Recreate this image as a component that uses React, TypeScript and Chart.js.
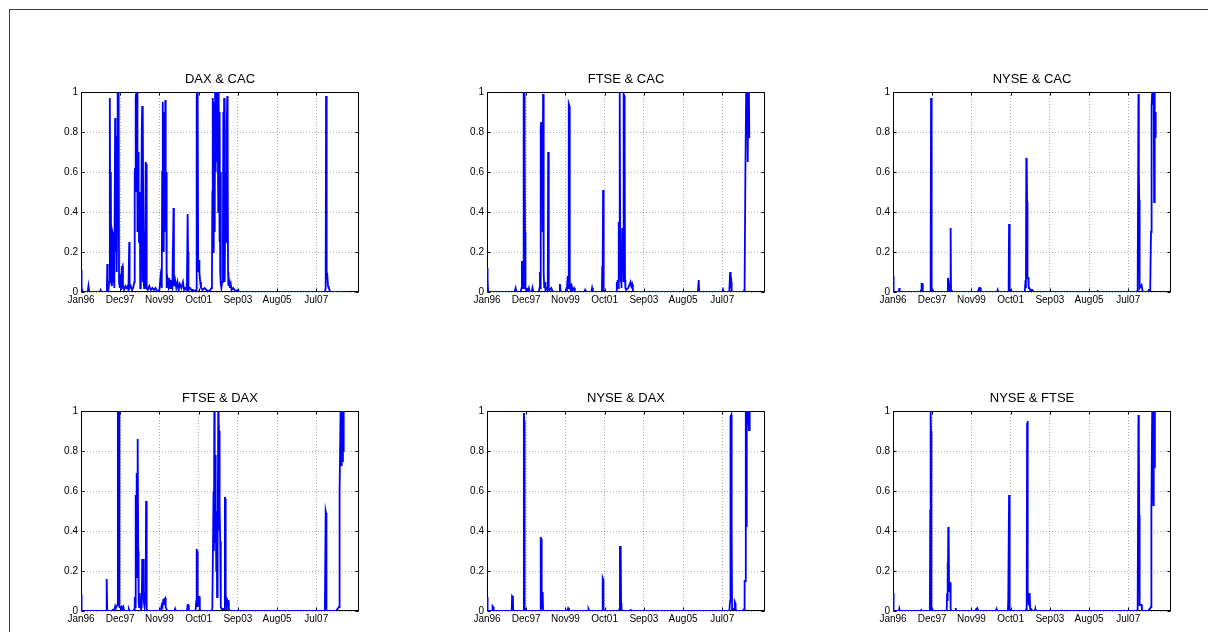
import { useEffect, useRef } from 'react';
import { Chart, registerables } from 'chart.js';

Chart.register(...registerables);

// ---------- data ----------
const tickWeeks = [0, 100, 200, 300, 400, 500, 600];
const tickLabels = ['Jan96', 'Dec97', 'Nov99', 'Oct01', 'Sep03', 'Aug05', 'Jul07'];
const yTicks = [0, 0.2, 0.4, 0.6, 0.8, 1];
const xMaxWeek = 709;

const daxCac: [number, number][] = [
  [0,0.11],[1,0.1],[2,0.02],[4,0],[17,0],[19,0.03],[21,0],[48,0],[50,0.01],[52,0],[64,0],[66,0.02],[67,0.14],[68,0.03],[70,0.01],[72,0.05],[73.5,0.97],[75,0.1],[76,0.6],[77,0.05],[79,0.03],[80,0.3],[81,0.29],[82,0.05],[84,0.1],[85,0.02],[87,0.87],[88,0.2],[90,0.78],[91,0.1],[92,0.3],[93,0.9],[94,1.0],[95,0.4],[96,1.0],[97,0.05],[99,0.02],[101,0.09],[102,0.01],[104,0.12],[106,0.13],[107,0.02],[110,0.01],[113,0.03],[116,0.02],[119,0.03],[121,0.01],[123,0.25],[124,0.02],[127,0.03],[130,0.01],[133,0.02],[136,0.05],[137,0.6],[138,0.62],[139,0.5],[140,0.97],[141,1.0],[142,0.5],[143,1.0],[144,0.3],[146,0.7],[147,0.5],[148,0.25],[150,0.5],[151,0.02],[152,0.4],[153,0.05],[155,0.8],[156,0.93],[157,0.05],[158,0.92],[159,0.3],[160,0.05],[161,0.02],[163,0.03],[165,0.65],[166,0.64],[167,0.05],[168,0.02],[170,0.01],[174,0.03],[178,0.01],[182,0.02],[186,0.01],[190,0.02],[195,0],[200,0.01],[203,0.08],[205,0.05],[206,0.02],[207,0.6],[208,0.95],[209,0.6],[210,0.9],[211,0.2],[212,0.8],[213,0.3],[215,0.96],[216,0.4],[217,0.6],[218,0.05],[219,0.02],[221,0.06],[223,0.03],[225,0.07],[227,0.02],[229,0.06],[231,0.03],[233,0.02],[236,0.42],[237,0.03],[240,0.06],[243,0.02],[246,0.05],[249,0.01],[252,0.04],[256,0.02],[260,0.05],[263,0.01],[266,0.02],[270,0.01],[272,0.39],[273,0.2],[274,0.01],[278,0.02],[282,0.01],[286,0.01],[290,0.005],[294,0.01],[295,0.97],[296,1.0],[297,0.4],[298,0.9],[299,0.1],[301,0.16],[302,0.1],[304,0.05],[306,0.02],[310,0.01],[315,0.02],[320,0.01],[325,0.005],[330,0.01],
  [333,0.02],[334,0.06],[335,0.5],[336,0.97],[337,0.2],[338,0.9],[339,0.6],[340,0.95],[341,0.3],[342,1.0],[343,0.8],[344,0.6],[345,1.0],[346,0.65],[347,1.0],[348,0.75],[349,0.95],[350,0.4],[351,1.0],[352,0.7],[353,0.25],[354,0.9],[355,0.1],[356,0.6],[357,0.04],[358,0.02],[360,0.05],[362,0.3],[363,0.9],[364,0.5],[365,0.97],[366,0.1],[367,0.05],[369,0.6],[370,0.25],[371,0.3],[372,0.8],[373,0.98],[374,0.7],[375,0.1],[376,0.03],[378,0.05],[380,0.02],[382,0.04],[384,0.01],[388,0.02],[392,0.01],[396,0.005],[400,0.01],[404,0],
  [622,0],[624,0.02],[625,0.98],[626,0.7],[627,0.1],[628,0.09],[630,0.03],[632,0.02],[634,0.01],[636,0],[670,0]
];

const ftseCac: [number, number][] = [
  [0,0.12],[1,0.12],[2,0.06],[3,0],[70,0],[73,0.02],[75,0],[86,0],[88,0.02],[89,0.15],[91,0.15],[92,0.02],[93,0.1],[94,1.0],[95,0.99],[96,0.73],[97,0.3],[98,0.02],[100,0.01],[102,0.02],[104,0],[107,0.02],[109,0],[114,0],[116,0.02],[118,0],[132,0],[134,0.02],[135,0.1],[136,0.02],[137,0.82],[138,0.85],[139,0.8],[141,0.84],[142,0.3],[143,0.99],[144,0.98],[145,0.1],[146,0.02],[148,0.05],[149,0.01],[151,0.02],[154,0.01],[155,0.05],[156,0.7],[157,0.1],[158,0.02],[160,0.01],[164,0.02],[168,0],[184,0],[186,0.04],[188,0],[202,0],[204,0.02],[206,0.08],[207,0.02],[208,0.8],[209,0.94],[210,0.93],[211,0.05],[212,0.02],[213,0.04],[214,0.01],[216,0.03],[218,0.01],[222,0.02],[224,0],[248,0],[250,0.01],[252,0],[266,0],[268,0.02],[270,0],[292,0],[293,0.02],[294,0.13],[295,0.1],[296,0.51],[297,0.5],[298,0.01],[300,0],[330,0],[331,0.05],[332,0.03],[333,0.06],[335,0.02],[336,0.35],[337,0.1],[338,1.0],[339,0.99],[340,0.13],[341,0.05],[342,0.1],[343,0.02],[345,0.32],[346,0.1],[347,0.3],[348,0.05],[349,0.99],[350,0.98],[351,0.75],[352,0.06],[353,0.02],[355,0.01],[360,0.02],[364,0.04],[366,0.05],[368,0.03],[370,0.04],[372,0.01],[374,0],[538,0],[540,0.06],[541,0],[600,0],[602,0.01],[603,0],[618,0],[620,0.1],[621,0.1],[622,0.04],[623,0.05],[624,0],[654,0],[656,0.01],[657,0.02],[659,0.6],[661,1.0],[662,0.9],[664,1.0],[665,0.65],[666,0.95],[668,1.0],[669,0.77],[670,0.77]
];

const nyseCac: [number, number][] = [
  [0,0.08],[1,0.08],[2,0],[15,0],[16,0.02],[17,0],[70,0],[72,0.01],[73,0.04],[75,0.04],[76,0],[95,0],[96,0.02],[97,0.97],[98,0.84],[99,0.01],[101,0.01],[102,0],[139,0],[140,0.07],[141,0.06],[143,0.03],[144,0],[146,0.02],[147,0.32],[148,0.01],[150,0],[216,0],[218,0.01],[220,0.02],[222,0.02],[224,0],[265,0],[267,0.01],[268,0],[294,0],[295,0.04],[296,0.34],[297,0.04],[298,0.01],[300,0.01],[302,0],[336,0],[338,0.06],[339,0.02],[340,0.67],[341,0.66],[342,0.45],[343,0.07],[345,0.07],[346,0.02],[348,0.02],[350,0.01],[355,0.01],[357,0],[520,0],[522,0.005],[524,0],
  [622,0],[624,0.01],[626,0.99],[627,0.6],[628,0.46],[629,0.02],[632,0.03],[634,0.035],[636,0.01],[638,0],[650,0],[652,0.01],[656,0.01],[658,0.3],[659,0.3],[660,0.93],[661,1.0],[663,1.0],[664,0.94],[665,1.0],[666,0.45],[667,1.0],[668,0.77],[669,0.9],[670,0.77]
];

const ftseDax: [number, number][] = [
  [0,0.08],[1,0.08],[2,0],[64,0],[65,0.16],[66,0.16],[67,0],[80,0],[81,0.01],[82,0],[86,0.01],[87,0.02],[88,0.01],[90,0.02],[93,0.03],[94,1.0],[97,1.0],[98,0.02],[100,0.02],[102,0.01],[104,0.02],[106,0.01],[108,0.02],[110,0],[120,0],[122,0.01],[124,0],[134,0],[136,0.01],[137,0.07],[138,0.02],[139,0.57],[140,0.58],[141,0.17],[142,0.69],[143,0.4],[144,0.86],[145,0.85],[146,0.3],[147,0.05],[148,0.02],[150,0.09],[151,0.02],[153,0.01],[155,0.02],[156,0.26],[157,0.1],[158,0.2],[159,0.26],[160,0.05],[162,0.02],[165,0.1],[166,0.55],[167,0.04],[168,0.01],[170,0],[202,0],[204,0.01],[206,0.03],[208,0.02],[210,0.06],[211,0.03],[213,0.06],[215,0.065],[216,0.02],[218,0.01],[220,0],[238,0],[240,0.01],[241,0],[270,0],[272,0.03],[273,0.03],[275,0],[292,0],[294,0.05],[295,0.31],[296,0.3],[297,0.07],[298,0.02],[300,0.07],[302,0.07],[303,0.01],[305,0],
  [334,0],[335,0.02],[338,0.6],[339,0.3],[340,1.0],[341,0.6],[342,0.78],[343,0.34],[344,0.5],[345,0.2],[346,0.5],[347,0.07],[348,0.45],[349,0.3],[350,1.0],[351,0.95],[352,0.9],[353,0.4],[354,0.53],[355,0.35],[356,0.05],[357,0.02],[359,0.01],[366,0.01],[367,0.57],[368,0.56],[369,0.02],[371,0.01],[372,0.06],[374,0.05],[376,0.05],[377,0.01],[380,0],
  [622,0],[624,0.5],[625,0.49],[626,0],[650,0],[654,0.01],[658,0.02],[659,0.09],[660,0.6],[662,1.0],[663,0.95],[664,0.73],[665,1.0],[667,0.75],[668,1.0],[669,0.8],[670,1.0]
];

const nyseDax: [number, number][] = [
  [0,0.07],[1,0.07],[2,0],[13,0],[14,0.025],[16,0.02],[17,0],[63,0],[64,0.075],[66,0.07],[67,0],[93,0],[94,0.99],[95,0.95],[96,0.01],[98,0.01],[100,0],[136,0],[137,0.37],[138,0.36],[139,0.01],[140,0.09],[142,0.09],[143,0],[204,0],[206,0.01],[207,0.015],[209,0.01],[210,0],[258,0],[259,0.01],[261,0],[294,0],[295,0.165],[296,0.16],[297,0],[336,0],[338,0.01],[339,0.32],[341,0.32],[342,0.04],[343,0.01],[345,0],[365,0],[366,0.01],[367,0],
  [618,0],[620,0.05],[621,0.97],[623,0.98],[624,0.4],[625,0.01],[630,0.01],[632,0.045],[633,0.04],[634,0.01],[636,0],[650,0],[654,0.005],[656,0.01],[657,0.15],[658,0.15],[660,1.0],[661,0.98],[662,0.42],[663,1.0],[665,0.93],[666,1.0],[668,0.9],[669,1.0],[670,0.9]
];

const nyseFtse: [number, number][] = [
  [0,0.09],[1,0.09],[2,0],[15,0],[16,0.01],[17,0],[70,0],[72,0.005],[73,0],[94,0],[95,0.5],[96,1.0],[97,0.9],[98,0.01],[100,0.01],[101,0],[137,0],[138,0.09],[139,0.24],[140,0.05],[141,0.42],[142,0.4],[143,0.1],[144,0.14],[146,0.14],[147,0.01],[149,0],[159,0],[160,0.015],[161,0],[210,0],[212,0.01],[215,0.015],[217,0],[262,0],[264,0.01],[265,0],[293,0],[294,0.06],[296,0.58],[297,0.38],[298,0.01],[300,0],[338,0],[340,0.01],[341,0.1],[342,0.94],[343,0.95],[344,0.06],[345,0.09],[346,0.03],[347,0.09],[348,0.02],[349,0.09],[350,0.01],[352,0.01],[354,0],[362,0],[363,0.01],[364,0],
  [622,0],[624,0.01],[626,0.98],[627,0.82],[628,0.48],[629,0.03],[631,0.03],[634,0.03],[635,0],[650,0],[655,0.01],[658,0.02],[659,0.51],[661,1.0],[662,0.93],[664,0.53],[665,1.0],[667,1.0],[668,0.72],[670,0.72]
];

const panelTitles = ['DAX & CAC', 'FTSE & CAC', 'NYSE & CAC', 'FTSE & DAX', 'NYSE & DAX', 'NYSE & FTSE'];
const panelSeries = [daxCac, ftseCac, nyseCac, ftseDax, nyseDax, nyseFtse];

// ---------- layout ----------
const FONT = '"Liberation Sans", Arial, Helvetica, sans-serif';
const PLOT_W = 278;
const PLOT_H = 200;
const PAD_L = 40;
const PAD_T = 30;
const PAD_R = 10;
const PAD_B = 20;
const colLefts = [81, 487, 893];
const rowTops = [92, 411];

const framePlugin = {
  id: 'frame',
  beforeDatasetsDraw(chart: any) {
    const { ctx, chartArea: a, scales } = chart;
    ctx.save();
    ctx.strokeStyle = '#000';
    ctx.lineWidth = 1;
    const l = Math.round(a.left) + 0.5;
    const r = Math.round(a.right) - 0.5;
    const t = Math.round(a.top) + 0.5;
    const b = Math.round(a.bottom) - 0.5;
    ctx.strokeRect(l, t, r - l, b - t);
    ctx.beginPath();
    for (const w of tickWeeks) {
      const x = Math.round(scales.x.getPixelForValue(w)) + 0.5;
      ctx.moveTo(x, b); ctx.lineTo(x, b - 3);
      ctx.moveTo(x, t); ctx.lineTo(x, t + 3);
    }
    for (const v of yTicks) {
      const y = Math.round(scales.y.getPixelForValue(v)) + 0.5;
      ctx.moveTo(l, y); ctx.lineTo(l + 3, y);
      ctx.moveTo(r, y); ctx.lineTo(r - 3, y);
    }
    ctx.stroke();
    ctx.restore();
  },
  afterDraw(chart: any, _args: any, opts: any) {
    const { ctx, chartArea: a } = chart;
    ctx.save();
    ctx.fillStyle = '#000';
    ctx.font = `13px ${FONT}`;
    ctx.textAlign = 'center';
    ctx.textBaseline = 'alphabetic';
    ctx.fillText(opts.title || '', (a.left + a.right) / 2, a.top - 9);
    ctx.restore();
  },
};

function Panel({ title, series, left, top }: { title: string; series: [number, number][]; left: number; top: number }) {
  const ref = useRef<HTMLCanvasElement | null>(null);
  useEffect(() => {
    if (!ref.current) return;
    const chart = new Chart(ref.current, {
      type: 'line',
      data: {
        datasets: [
          {
            data: series.map(([x, y]) => ({ x, y })),
            borderColor: '#0000ff',
            borderWidth: 1.8,
            pointRadius: 0,
            fill: false,
            tension: 0,
          },
        ],
      },
      options: {
        animation: false,
        responsive: false,
        devicePixelRatio: 1,
        layout: { padding: { left: 0, top: PAD_T, right: PAD_R, bottom: 0 } },
        plugins: {
          legend: { display: false },
          tooltip: { enabled: false },
          title: { display: false },
          frame: { title },
        } as any,
        scales: {
          x: {
            type: 'linear',
            min: 0,
            max: xMaxWeek,
            afterBuildTicks: (scale: any) => {
              scale.ticks = tickWeeks.map((v) => ({ value: v }));
            },
            afterFit: (scale: any) => {
              scale.height = PAD_B;
            },
            ticks: {
              autoSkip: false,
              maxRotation: 0,
              padding: 2,
              color: '#000',
              font: { family: FONT, size: 10 },
              callback: (_v: any, i: number) => tickLabels[i],
            },
            grid: { color: 'rgba(0,0,0,0.3)', drawTicks: false, lineWidth: 1 },
            border: { display: false, dash: [1, 2] },
          },
          y: {
            type: 'linear',
            min: 0,
            max: 1,
            afterBuildTicks: (scale: any) => {
              scale.ticks = yTicks.map((v) => ({ value: v }));
            },
            afterFit: (scale: any) => {
              scale.width = PAD_L;
            },
            ticks: {
              padding: 3,
              color: '#000',
              font: { family: FONT, size: 10 },
              callback: (v: any) => String(v),
            },
            grid: { color: 'rgba(0,0,0,0.3)', drawTicks: false, lineWidth: 1 },
            border: { display: false, dash: [1, 2] },
          },
        },
      },
      plugins: [framePlugin],
    } as any);
    return () => chart.destroy();
  }, [title, series]);

  const w = PLOT_W + PAD_L + PAD_R;
  const h = PLOT_H + PAD_T + PAD_B;
  return (
    <div style={{ position: 'absolute', left: left - PAD_L - 8, top: top - PAD_T - 8, width: w, height: h }}>
      <canvas ref={ref} width={w} height={h} style={{ display: 'block', width: w, height: h }} />
    </div>
  );
}

export default function App() {
  return (
    <div style={{ position: 'relative', width: 1200, height: 624, overflow: 'hidden', background: '#fff' }}>
      <div
        style={{
          position: 'absolute',
          left: 1,
          top: 1,
          width: 1199,
          height: 623,
          borderTop: '1px solid #404040',
          borderLeft: '1px solid #404040',
          boxSizing: 'border-box',
        }}
      />
      {panelTitles.map((t, i) => (
        <Panel
          key={t}
          title={t}
          series={panelSeries[i]}
          left={colLefts[i % 3]}
          top={rowTops[Math.floor(i / 3)]}
        />
      ))}
    </div>
  );
}
